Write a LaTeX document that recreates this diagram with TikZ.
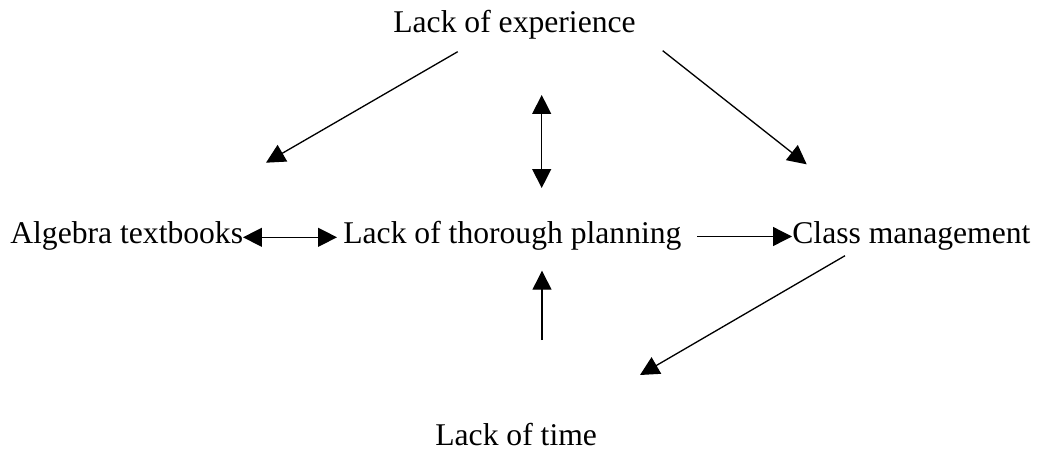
\documentclass[tikz,border=0pt]{standalone}
\usepackage{fontspec}
\setmainfont{Liberation Serif}
\usepackage{tikz}
\usetikzlibrary{arrows.meta, positioning, calc}

\tikzset{
    causetext/.style={inner sep=0pt, anchor=base west, font=\fontsize{18}{22}\selectfont},
    causearrow/.style={line width=0.75pt, -{Triangle[length=10.8pt, width=10.8pt]}},
    bothway/.style={line width=0.75pt, {Triangle[length=10.8pt, width=10.8pt]}-{Triangle[length=10.8pt, width=10.8pt]}}
}

\begin{document}
\begin{tikzpicture}[x=0.02cm, y=-0.02cm]
    \useasboundingbox (0,0) rectangle (1037,460);

    % Factors
    \node[causetext] (experience) at (393,32) {Lack of experience};
    \node[causetext] (textbooks) at (10,243) {Algebra textbooks};
    \node[causetext] (planning) at (343,243) {Lack of thorough planning};
    \node[causetext] (management) at (792,243) {Class management};
    \node[causetext] (time) at (435,445) {Lack of time};

    % Arrow ends
    \coordinate (expL) at (457.7,51.7);
    \coordinate (bookT) at (266,162.7);
    \coordinate (expR) at (662.7,50.7);
    \coordinate (manT) at (806.7,164.3);
    \coordinate (vTop) at (541.7,95);
    \coordinate (vBot) at (541.7,188);
    \coordinate (hL) at (243,237.3);
    \coordinate (hR) at (337,237.3);
    \coordinate (pR) at (697,236.5);
    \coordinate (manL) at (792,236.5);
    \coordinate (timeT) at (542,340);
    \coordinate (planB) at (542,270.7);
    \coordinate (manB) at (845,255.7);
    \coordinate (timeR) at (640,375);

    % Connectors
    \draw[causearrow] (expL) -- (bookT);
    \draw[causearrow] (expR) -- (manT);
    \draw[bothway] (vTop) -- (vBot);
    \draw[bothway] (hL) -- (hR);
    \draw[causearrow] (pR) -- (manL);
    \draw[causearrow] (timeT) -- (planB);
    \draw[causearrow] (manB) -- (timeR);
\end{tikzpicture}
\end{document}
